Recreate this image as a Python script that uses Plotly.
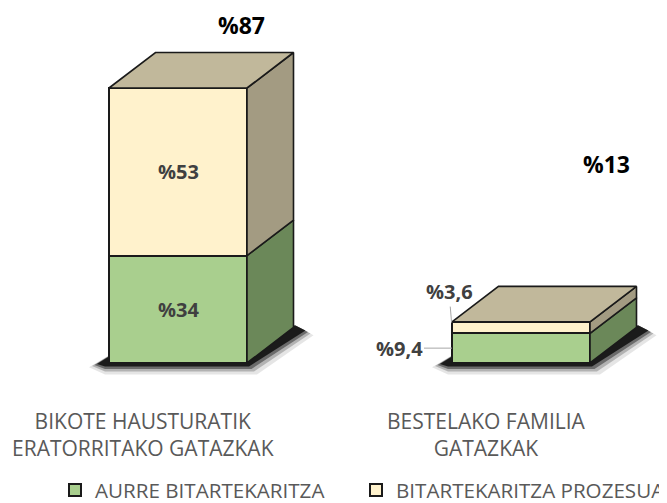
import plotly.graph_objects as go

# ---------------- data ----------------
categories = ["BIKOTE HAUSTURATIK<br>ERATORRITAKO GATAZKAK", "BESTELAKO FAMILIA<br>GATAZKAK"]
series_names = ["AURRE BITARTEKARITZA", "BITARTEKARITZA PROZESUA"]
aurre = [34, 9.4]
prozesua = [53, 3.6]
aurre_labels = ["%34", "%9,4"]
prozesua_labels = ["%53", "%3,6"]
total_labels = ["%87", "%13"]

# ---------------- styles / geometry ----------------
W, H = 667, 503
PAGE_OFF = 8                               # default page margin around the figure
X0_PX, X_UNIT_PX = 178.0 - PAGE_OFF, 343.0  # pixel of category 0, pixels per category
Y0_PX, Y_UNIT_PX = 363.0 - PAGE_OFF, 275.0 / 87.0
BAR_W = 138 / X_UNIT_PX
DX = 46.5 / X_UNIT_PX
DY = 35.5 / Y_UNIT_PX

def px_x(p):
    return p / X_UNIT_PX

def px_y(p):
    return p / Y_UNIT_PX

x_range = [-X0_PX / X_UNIT_PX, (W - X0_PX) / X_UNIT_PX]
y_range = [-(H - Y0_PX) / Y_UNIT_PX, Y0_PX / Y_UNIT_PX]

GREEN_FRONT = "#A9CF8E"
GREEN_SIDE = "#6B8859"
YELLOW_FRONT = "#FFF2CC"
YELLOW_SIDE = "#A39B82"
TOP = "#C1B89B"
EDGE = "#1A1A1A"
TXT = "#595959"
LBL = "#404040"
FONT = "Open Sans"

xs = list(range(len(categories)))

fig = go.Figure()

# front faces (real bars, stacked)
fig.add_trace(go.Bar(x=xs, y=aurre, name=series_names[0], width=BAR_W, legend="legend",
                     marker=dict(color=GREEN_FRONT, line=dict(color=EDGE, width=2)),
                     hoverinfo="skip"))
fig.add_trace(go.Bar(x=xs, y=prozesua, name=series_names[1], width=BAR_W, legend="legend2",
                     marker=dict(color=YELLOW_FRONT, line=dict(color=EDGE, width=2)),
                     hoverinfo="skip"))

shapes = []
annotations = []

def poly(xp, yp, color):
    fig.add_trace(go.Scatter(x=xp + [xp[0]], y=yp + [yp[0]], mode="lines", fill="toself",
                             fillcolor=color, line=dict(color=EDGE, width=1.6),
                             showlegend=False, hoverinfo="skip"))

for i in xs:
    xl, xr = i - BAR_W / 2, i + BAR_W / 2
    a = aurre[i]
    t = aurre[i] + prozesua[i]
    # side faces
    for (y0, y1, col) in [(0, a, GREEN_SIDE), (a, t, YELLOW_SIDE)]:
        poly([xr, xr + DX, xr + DX, xr], [y0, y0 + DY, y1 + DY, y1], col)
    # top face
    poly([xl, xl + DX, xr + DX, xr], [t, t + DY, t + DY, t], TOP)

    # soft shadow under the block (layered, below traces)
    for e, op in [(8, 0.10), (5, 0.22), (2.5, 0.40), (0, 0.75)]:
        pts = [
            (xl - px_x(12 + e), -px_y(1 + e * 0.4)),
            (xl - px_x(4), -px_y(3.5 + e)),
            (xr + px_x(2 + e), -px_y(3.5 + e)),
            (xr + DX + px_x(12 + e), DY - px_y(3 + e * 0.6)),
            (xr + DX + px_x(2), DY + px_y(2)),
            (xl + DX, DY),
        ]
        path = "M " + " L ".join(f"{px:.5f},{py:.5f}" for px, py in pts) + " Z"
        shapes.append(dict(type="path", path=path, xref="x", yref="y", layer="below",
                           fillcolor=f"rgba(0,0,0,{op})", line=dict(width=0)))

    # category label
    annotations.append(dict(x=i, y=-px_y(71), xref="x", yref="y", xshift=-35,
                            text=categories[i], showarrow=False,
                            font=dict(family=FONT, size=21, color=TXT), align="center"))

# labels inside the tall bar
annotations.append(dict(x=0, y=aurre[0] / 2, xref="x", yref="y", text=f"<b>{aurre_labels[0]}</b>",
                        showarrow=False, font=dict(family=FONT, size=20, color=LBL)))
annotations.append(dict(x=0, y=aurre[0] + prozesua[0] / 2, xref="x", yref="y",
                        text=f"<b>{prozesua_labels[0]}</b>", showarrow=False,
                        font=dict(family=FONT, size=20, color=LBL)))

# labels with leader lines on the flat bar
xl1 = 1 - BAR_W / 2
annotations.append(dict(x=xl1, y=aurre[1] / 2, xref="x", yref="y", text=f"<b>{aurre_labels[1]}</b>",
                        showarrow=True, arrowhead=0, arrowwidth=1, arrowcolor="#A6A6A6",
                        ax=-53, ay=0, standoff=0,
                        font=dict(family=FONT, size=20, color=LBL)))
annotations.append(dict(x=xl1, y=aurre[1] + prozesua[1] / 2, xref="x", yref="y",
                        text=f"<b>{prozesua_labels[1]}</b>",
                        showarrow=True, arrowhead=0, arrowwidth=1, arrowcolor="#A6A6A6",
                        ax=-3, ay=-36, standoff=5,
                        font=dict(family=FONT, size=20, color=LBL)))

# total labels
total_shift = [(63, 63), (85, 158)]
for i in xs:
    t = aurre[i] + prozesua[i]
    annotations.append(dict(x=i, y=t, xref="x", yref="y", xshift=total_shift[i][0],
                            yshift=total_shift[i][1], text=f"<b>{total_labels[i]}</b>",
                            showarrow=False, font=dict(family=FONT, size=23, color="#000000")))

legend_style = dict(orientation="h", xanchor="left", yanchor="middle",
                    y=1 - (490 - PAGE_OFF) / H,
                    bgcolor="rgba(0,0,0,0)", font=dict(family=FONT, size=20.6, color=TXT),
                    itemclick=False, itemdoubleclick=False)

fig.update_layout(
    width=W, height=H,
    margin=dict(l=0, r=0, t=0, b=0, autoexpand=False),
    paper_bgcolor="white", plot_bgcolor="white",
    barmode="stack",
    xaxis=dict(range=x_range, visible=False, fixedrange=True),
    yaxis=dict(range=y_range, visible=False, fixedrange=True),
    shapes=shapes,
    annotations=annotations,
    showlegend=True,
    legend=dict(x=(76 - PAGE_OFF - 21) / W, **legend_style),
    legend2=dict(x=(377 - PAGE_OFF - 21) / W, **legend_style),
)

fig.write_html("out.html")
